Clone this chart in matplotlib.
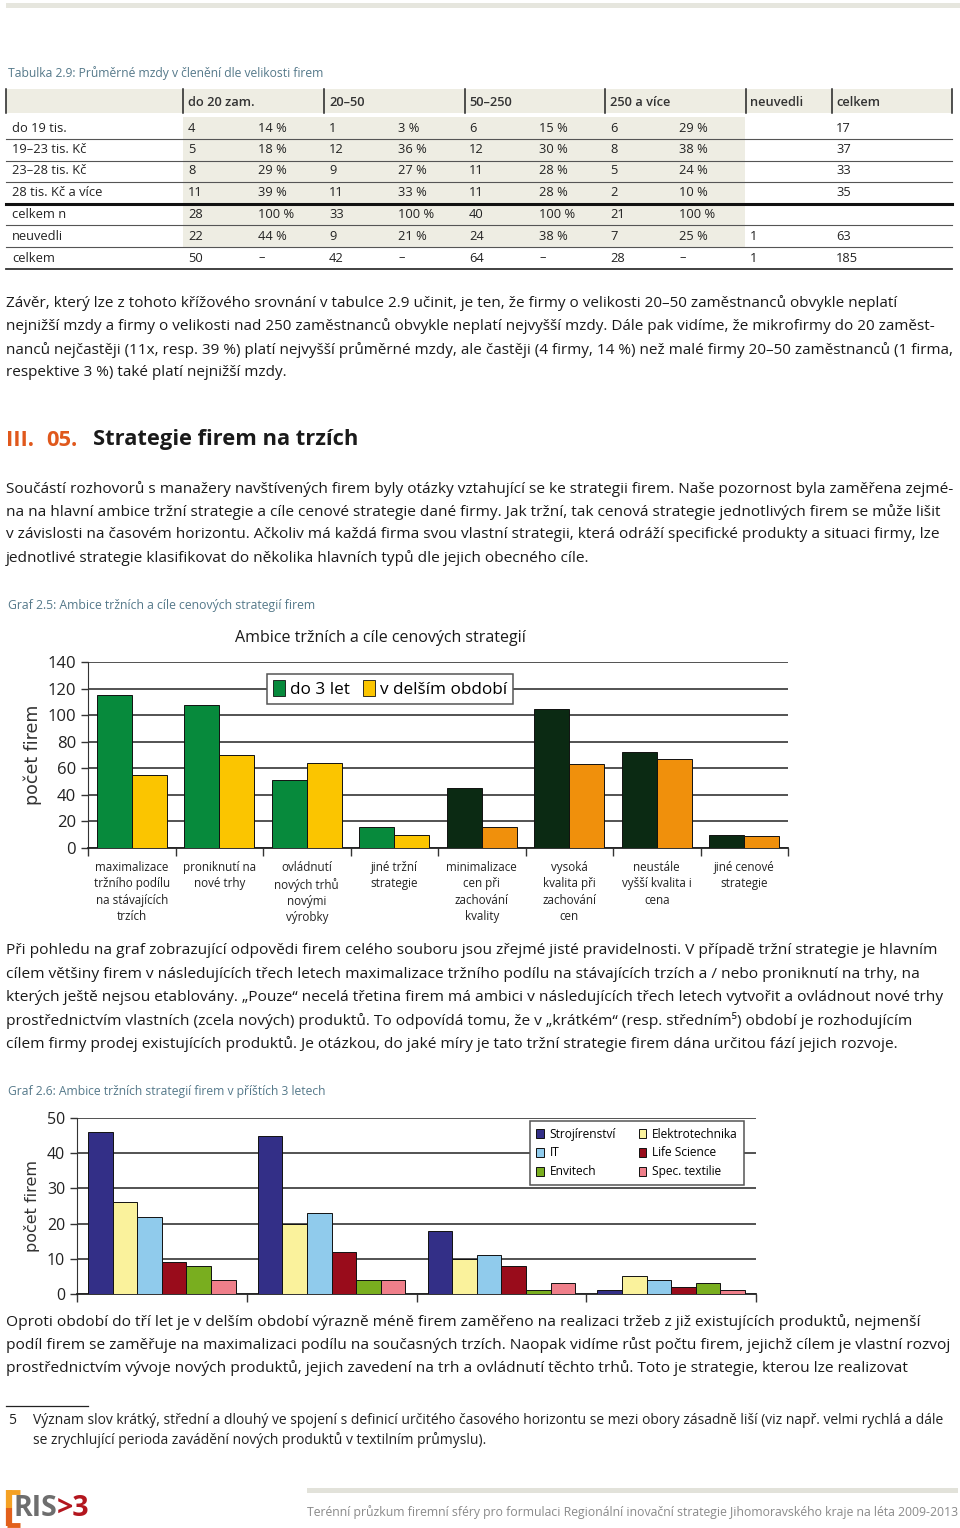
import matplotlib
matplotlib.use('Agg')
import matplotlib.pyplot as plt
from matplotlib.patches import Rectangle, Patch

# ---- table 2.9 data
row_names = ["do 19 tis.", "19–23 tis. Kč", "23–28 tis. Kč", "28 tis. Kč a více",
             "celkem n", "neuvedli", "celkem"]
col_names = ["do 20 zam.", "20–50", "50–250", "250 a více", "neuvedli", "celkem"]
n_do20 = ["4", "5", "8", "11", "28", "22", "50"]
p_do20 = ["14 %", "18 %", "29 %", "39 %", "100 %", "44 %", "–"]
n_20_50 = ["1", "12", "9", "11", "33", "9", "42"]
p_20_50 = ["3 %", "36 %", "27 %", "33 %", "100 %", "21 %", "–"]
n_50_250 = ["6", "12", "11", "11", "40", "24", "64"]
p_50_250 = ["15 %", "30 %", "28 %", "28 %", "100 %", "38 %", "–"]
n_250 = ["6", "8", "5", "2", "21", "7", "28"]
p_250 = ["29 %", "38 %", "24 %", "10 %", "100 %", "25 %", "–"]
n_neuvedli = ["", "", "", "", "", "1", "1"]
n_celkem = ["17", "37", "33", "35", "", "63", "185"]

# ---- graf 2.5 data
strategies = ["maximalizace\ntržního podílu\nna stávajících\ntrzích", "proniknutí na\nnové trhy",
              "ovládnutí\nnových trhů\nnovými\nvýrobky", "jiné tržní\nstrategie",
              "minimalizace\ncen při\nzachování\nkvality", "vysoká\nkvalita při\nzachování\ncen",
              "neustále\nvyšší kvalita i\ncena", "jiné cenové\nstrategie"]
do_3_let = [115, 108, 51, 16, 45, 105, 72, 10]
v_delsim = [55, 70, 64, 10, 16, 63, 67, 9]

# ---- graf 2.6 data
sectors = ["Strojírenství", "Elektrotechnika", "IT", "Life Science", "Envitech", "Spec. textilie"]
sector_vals = [
    [46, 45, 18, 1],
    [26, 20, 10, 5],
    [22, 23, 11, 4],
    [9, 12, 8, 2],
    [8, 4, 1, 3],
    [4, 4, 3, 1],
]
sector_cols = ['#332f87', '#faf29c', '#90cbec', '#990c1b', '#79ae1f', '#ef7f8a']

p1 = ["Závěr, který lze z tohoto křížového srovnání v tabulce 2.9 učinit, je ten, že firmy o velikosti 20–50 zaměstnanců obvykle neplatí",
      "nejnižší mzdy a firmy o velikosti nad 250 zaměstnanců obvykle neplatí nejvyšší mzdy. Dále pak vidíme, že mikrofirmy do 20 zaměst-",
      "nanců nejčastěji (11x, resp. 39 %) platí nejvyšší průměrné mzdy, ale častěji (4 firmy, 14 %) než malé firmy 20–50 zaměstnanců (1 firma,",
      "respektive 3 %) také platí nejnižší mzdy."]
p2 = ["Součástí rozhovorů s manažery navštívených firem byly otázky vztahující se ke strategii firem. Naše pozornost byla zaměřena zejmé-",
      "na na hlavní ambice tržní strategie a cíle cenové strategie dané firmy. Jak tržní, tak cenová strategie jednotlivých firem se může lišit",
      "v závislosti na časovém horizontu. Ačkoliv má každá firma svou vlastní strategii, která odráží specifické produkty a situaci firmy, lze",
      "jednotlivé strategie klasifikovat do několika hlavních typů dle jejich obecného cíle."]
p3 = ["Při pohledu na graf zobrazující odpovědi firem celého souboru jsou zřejmé jisté pravidelnosti. V případě tržní strategie je hlavním",
      "cílem většiny firem v následujících třech letech maximalizace tržního podílu na stávajících trzích a / nebo proniknutí na trhy, na",
      "kterých ještě nejsou etablovány. „Pouze“ necelá třetina firem má ambici v následujících třech letech vytvořit a ovládnout nové trhy",
      "prostřednictvím vlastních (zcela nových) produktů. To odpovídá tomu, že v „krátkém“ (resp. středním⁵) období je rozhodujícím",
      "cílem firmy prodej existujících produktů. Je otázkou, do jaké míry je tato tržní strategie firem dána určitou fází jejich rozvoje."]
p4 = ["Oproti období do tří let je v delším období výrazně méně firem zaměřeno na realizaci tržeb z již existujících produktů, nejmenší",
      "podíl firem se zaměřuje na maximalizaci podílu na současných trzích. Naopak vidíme růst počtu firem, jejichž cílem je vlastní rozvoj",
      "prostřednictvím vývoje nových produktů, jejich zavedení na trh a ovládnutí těchto trhů. Toto je strategie, kterou lze realizovat"]
footnote = ["Význam slov krátký, střední a dlouhý ve spojení s definicí určitého časového horizontu se mezi obory zásadně liší (viz např. velmi rychlá a dále",
            "se zrychlující perioda zavádění nových produktů v textilním průmyslu)."]

W, H = 960, 1528
BODY = ['Open Sans', 'DejaVu Sans']
CAP = '#55798a'
BEIGE = '#eeede3'

fig = plt.figure(figsize=(W / 100, H / 100), dpi=100)
page = fig.add_axes([0, 0, 1, 1])
page.set_xlim(0, W)
page.set_ylim(H, 0)
page.axis('off')
renderer = fig.canvas.get_renderer()


def fit_size(s, width, weight='normal', base=11.0):
    t = page.text(0, 0, s, fontsize=base, family=BODY, weight=weight)
    w = t.get_window_extent(renderer).width
    t.remove()
    return base * width / w


def block(lines, x, y0, step, size, color='#1a1a1a', weight='normal'):
    for i, s in enumerate(lines):
        page.text(x, y0 + i * step, s, fontsize=size, family=BODY, color=color,
                  weight=weight, va='center', ha='left')


def px_axes(left, top, right, bottom):
    return fig.add_axes([left / W, 1 - bottom / H, (right - left) / W, (bottom - top) / H])


# top band
page.add_patch(Rectangle((6, 3), 954, 5, color='#e6e6de', lw=0))

# ---- table
cap = "Tabulka 2.9: Průměrné mzdy v členění dle velikosti firem"
page.text(8, 73, cap, fontsize=fit_size(cap, 319), family=BODY, color=CAP, va='center')
page.add_patch(Rectangle((6, 89), 946, 24, color=BEIGE, lw=0))
page.add_patch(Rectangle((183, 117), 562, 131, color=BEIGE, lw=0))
for xv in [6, 183, 324, 465, 605, 746, 832, 952]:
    page.plot([xv, xv], [89, 113], color='#222', lw=1.1)
for yv in [139, 160.5, 182, 225, 246.5]:
    page.plot([6, 952], [yv, yv], color='#555', lw=0.8)
page.plot([6, 952], [203.5, 203.5], color='#111', lw=2.2)
page.plot([6, 952], [268.5, 268.5], color='#333', lw=1.3)

tsize = 9.3
hx = [188, 329, 469, 610, 750, 836]
for xv, s in zip(hx, col_names):
    page.text(xv, 102, s, fontsize=tsize, family=BODY, weight='semibold', color='#333', va='center')
cols_x = [188, 258, 329, 398, 469, 539, 610, 679, 750, 836]
cols = [n_do20, p_do20, n_20_50, p_20_50, n_50_250, p_50_250, n_250, p_250, n_neuvedli, n_celkem]
row_y = [128, 149.5, 171, 193, 215, 236.5, 258]
for i, r in enumerate(row_names):
    page.text(12, row_y[i], r, fontsize=tsize, family=BODY, color='#222', va='center')
    for xv, c in zip(cols_x, cols):
        page.text(xv, row_y[i], c[i], fontsize=tsize, family=BODY, color='#222', va='center')

# ---- paragraphs
block(p1, 6, 303, 23.3, fit_size(p1[2], 946))

hs = fit_size("Strategie firem na trzích", 265, weight='bold')
page.text(6, 440, "III.", fontsize=hs, family=BODY, weight='bold', color='#e0581c', va='center')
page.text(46, 440, "05.", fontsize=hs, family=BODY, weight='bold', color='#e0581c', va='center')
page.text(93, 440, "Strategie firem na trzích", fontsize=hs, family=BODY, weight='bold', color='#1a1a1a', va='center')

block(p2, 6, 489, 23, fit_size(p2[0], 946))

cap = "Graf 2.5: Ambice tržních a cíle cenových strategií firem"
page.text(8, 605, cap, fontsize=fit_size(cap, 308), family=BODY, color=CAP, va='center')

block(p3, 6, 951, 23.2, fit_size(p3[2], 935))

cap = "Graf 2.6: Ambice tržních strategií firem v příštích 3 letech"
page.text(8, 1091, cap, fontsize=fit_size(cap, 321), family=BODY, color=CAP, va='center')

block(p4, 6, 1322, 23, fit_size(p4[1], 939))

# footnote
page.plot([6, 88], [1406, 1406], color='#222', lw=0.9)
fs = fit_size(footnote[0], 910)
page.text(8, 1421, "5", fontsize=fs, family=BODY, color='#222', va='center')
block(footnote, 33, 1421, 19.5, fs, color='#222')

# footer
page.add_patch(Rectangle((307, 1488), 651, 5, color='#e2e2da', lw=0))
foot = "Terénní průzkum firemní sféry pro formulaci Regionální inovační strategie Jihomoravského kraje na léta 2009-2013"
page.text(307, 1512, foot, fontsize=fit_size(foot, 651), family=BODY, color='#8a8a8a', va='center')
page.plot([9, 9], [1490, 1508], color='#f4a124', lw=4.5, solid_capstyle='butt')
page.plot([9, 9], [1508, 1526], color='#e2601b', lw=4.5, solid_capstyle='butt')
page.plot([7, 20], [1491.5, 1491.5], color='#f4a124', lw=3.5, solid_capstyle='butt')
page.plot([7, 20], [1524.5, 1524.5], color='#e2601b', lw=3.5, solid_capstyle='butt')
page.text(14, 1509, "RIS", fontsize=20.5, family=BODY, weight='bold', color='#6e6e6e', va='center')
page.text(57, 1509, ">3", fontsize=20.5, family=BODY, weight='bold', color='#b3161e', va='center')

# ---- graf 2.5
ax = px_axes(88, 662, 788, 848)
n = len(strategies)
xs = [i + 0.5 for i in range(n)]
c_a = ['#078a3c'] * 4 + ['#0b2a13'] * 4
c_b = ['#fbc500'] * 4 + ['#f0900c'] * 4
ax.bar([x - 0.2 for x in xs], do_3_let, width=0.4, color=c_a, edgecolor='#111', lw=0.7, zorder=3)
ax.bar([x + 0.2 for x in xs], v_delsim, width=0.4, color=c_b, edgecolor='#111', lw=0.7, zorder=3)
ax.set_xlim(0, n)
ax.set_ylim(0, 140)
ax.set_yticks(range(0, 141, 20))
ax.yaxis.grid(True, color='#444', lw=1.3, zorder=0)
ax.set_axisbelow(True)
ax.set_xticks(range(n + 1))
ax.set_xticklabels([])
ax.tick_params(axis='x', length=6, width=1, color='#333', direction='out')
ax.tick_params(axis='y', length=5, width=1, color='#333', labelsize=12, labelcolor='#222')
for lab in ax.get_yticklabels():
    lab.set_family(BODY)
for sp in ['top', 'right']:
    ax.spines[sp].set_visible(False)
ax.spines['left'].set_color('#333')
ax.spines['bottom'].set_color('#222')
ax.spines['bottom'].set_linewidth(1.3)
ax.set_ylabel("počet firem", fontsize=12.5, family='DejaVu Sans', color='#333', labelpad=4)
for x, s in zip(xs, strategies):
    ax.text(x, -10, s, ha='center', va='top', fontsize=8.4, family=BODY, color='#222',
            linespacing=1.32)
t = "Ambice tržních a cíle cenových strategií"
page.text(380, 638, t, fontsize=fit_size(t, 291), family=BODY, color='#1a1a1a', ha='center', va='center')
leg = ax.legend(handles=[Patch(facecolor='#078a3c', edgecolor='#111', lw=0.6, label='do 3 let'),
                         Patch(facecolor='#fbc500', edgecolor='#111', lw=0.6, label='v delším období')],
                loc='center', bbox_to_anchor=(390 / W, 1 - 689 / H), bbox_transform=fig.transFigure,
                ncol=2, fancybox=False, framealpha=1, edgecolor='#555', handlelength=0.7,
                handleheight=1.0, handletextpad=0.3, columnspacing=0.8, borderpad=0.35,
                prop={'family': BODY, 'size': 12.3})
leg.get_frame().set_linewidth(1.1)

# ---- graf 2.6
bx = px_axes(77, 1118, 756, 1294)
ng = 4
bw = 0.145
for k, (name, vals) in enumerate(zip(sectors, sector_vals)):
    pos = [g + 0.065 + bw * (k + 0.5) for g in range(ng)]
    bx.bar(pos, vals, width=bw, color=sector_cols[k], edgecolor='#111', lw=0.7, zorder=3, label=name)
bx.set_xlim(0, ng)
bx.set_ylim(0, 50)
bx.set_yticks(range(0, 51, 10))
bx.yaxis.grid(True, color='#444', lw=1.3, zorder=0)
bx.set_axisbelow(True)
bx.set_xticks(range(ng + 1))
bx.set_xticklabels([])
bx.tick_params(axis='x', length=6, width=1, color='#333', direction='out')
bx.tick_params(axis='y', length=5, width=1, color='#333', labelsize=11.5, labelcolor='#222')
for lab in bx.get_yticklabels():
    lab.set_family(BODY)
for sp in ['top', 'right']:
    bx.spines[sp].set_visible(False)
bx.spines['left'].set_color('#333')
bx.spines['bottom'].set_color('#222')
bx.spines['bottom'].set_linewidth(1.3)
bx.set_ylabel("počet firem", fontsize=11.5, family='DejaVu Sans', color='#333', labelpad=5)
h, l = bx.get_legend_handles_labels()
order = [0, 2, 4, 1, 3, 5]
leg2 = bx.legend([h[i] for i in order], [l[i] for i in order], loc='center',
                 bbox_to_anchor=(637 / W, 1 - 1153 / H), bbox_transform=fig.transFigure,
                 ncol=2, fancybox=False, framealpha=1, edgecolor='#555', handlelength=0.6,
                 handleheight=0.8, handletextpad=0.5, columnspacing=1.9, labelspacing=0.5,
                 borderpad=0.55, prop={'family': BODY, 'size': 8.6})
leg2.get_frame().set_linewidth(1.1)

fig.savefig("out.png", dpi=100)
